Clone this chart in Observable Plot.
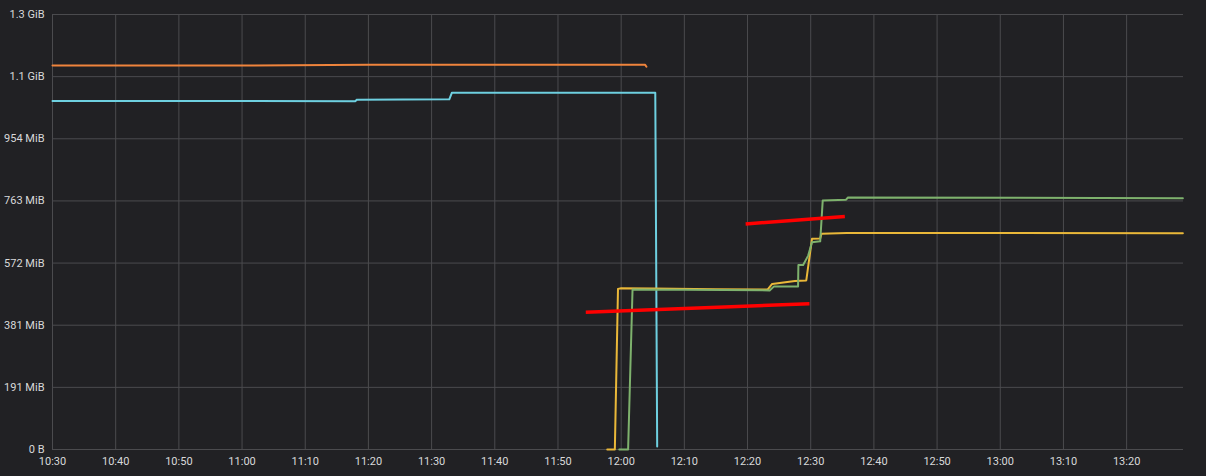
<!DOCTYPE html>
<html>
<head>
<meta charset="utf-8">
<script src="https://cdn.jsdelivr.net/npm/d3@7"></script>
<script src="https://cdn.jsdelivr.net/npm/@observablehq/plot@0.6"></script>
<style>
  html, body { margin: 0; padding: 0; background: #212124; }
  #chart { width: 1206px; height: 476px; }
</style>
</head>
<body>
<div id="chart"></div>
<script>
// ---- data (values in MB = 1e6 bytes; times hh:mm:ss on one day) ----
const seriesNames = ["series A", "series B", "series C", "series D"];
const seriesColors = ["#EF843C", "#6ED0E0", "#EAB839", "#7EB26D"];

const seriesATimes  = ["10:30:00", "11:00:00", "11:20:00", "12:03:48", "12:04:00"];
const seriesAValues = [1236, 1236, 1238, 1238, 1232];

const seriesBTimes  = ["10:30:00", "11:17:54", "11:18:12", "11:32:48", "11:33:12", "12:05:24", "12:05:42"];
const seriesBValues = [1122, 1121, 1126, 1127, 1148, 1148, 10];

const seriesCTimes  = ["11:57:48", "11:59:00", "11:59:30", "12:00:00", "12:05:00", "12:15:00", "12:23:12", "12:23:54", "12:27:30", "12:29:18", "12:30:12", "12:31:30", "12:31:42", "12:35:42", "13:28:54"];
const seriesCValues = [0, 0, 517, 519, 518, 516, 515, 533, 542, 544, 678, 679, 694, 697, 696];

const seriesDTimes  = ["11:59:42", "12:01:06", "12:01:48", "12:10:00", "12:23:30", "12:24:12", "12:28:00", "12:28:03", "12:28:48", "12:29:36", "12:30:12", "12:31:30", "12:31:54", "12:35:36", "12:35:54", "13:28:54"];
const seriesDValues = [0, 0, 515, 514, 512, 525, 525, 594, 594, 624, 667, 670, 801, 804, 811, 809];

// hand-drawn red annotation strokes
const redStartTimes  = ["11:54:24", "12:19:42"];
const redStartValues = [442, 726];
const redEndTimes    = ["12:29:48", "12:35:24"];
const redEndValues   = [469, 750];

const yTicks = [0, 200, 400, 600, 800, 1000, 1200, 1400];
const yTickLabels = ["0 B", "191 MiB", "381 MiB", "572 MiB", "763 MiB", "954 MiB", "1.1 GiB", "1.3 GiB"];
const xTickLabels = ["10:30", "10:40", "10:50", "11:00", "11:10", "11:20", "11:30", "11:40", "11:50",
                     "12:00", "12:10", "12:20", "12:30", "12:40", "12:50", "13:00", "13:10", "13:20"];
const xStart = "10:30:00";
const xEnd = "13:29:00";

// ---- build ----
const T = s => new Date("2019-01-01T" + (s.length === 5 ? s + ":00" : s) + "Z");

const rows = [];
function addSeries(name, times, values) {
  times.forEach((t, i) => rows.push({series: name, time: T(t), value: values[i]}));
}
addSeries("series A", seriesATimes, seriesAValues);
addSeries("series B", seriesBTimes, seriesBValues);
addSeries("series C", seriesCTimes, seriesCValues);
addSeries("series D", seriesDTimes, seriesDValues);

const red = redStartTimes.map((t, i) => ({
  x1: T(t), y1: redStartValues[i], x2: T(redEndTimes[i]), y2: redEndValues[i]
}));

const xTicks = xTickLabels.map(T);
const fmt = d3.utcFormat("%H:%M");

const chart = Plot.plot({
  width: 1206,
  height: 476,
  marginLeft: 52,
  marginRight: 23,
  marginTop: 14,
  marginBottom: 27,
  style: {
    background: "#212124",
    color: "#d8d9da",
    fontFamily: "Roboto, 'Helvetica Neue', Arial, sans-serif",
    fontSize: "11px"
  },
  x: {type: "utc", domain: [T(xStart), T(xEnd)]},
  y: {domain: [0, 1400]},
  color: {type: "ordinal", domain: seriesNames, range: seriesColors},
  marks: [
    Plot.gridX(xTicks, {stroke: "#4b4b4e", strokeOpacity: 1, strokeWidth: 1}),
    Plot.gridY(yTicks, {stroke: "#4b4b4e", strokeOpacity: 1, strokeWidth: 1}),
    Plot.axisX(xTicks, {tickSize: 0, tickPadding: 8, tickFormat: fmt, label: null, fill: "#d8d9da"}),
    Plot.axisY(yTicks, {tickSize: 0, tickPadding: 8, tickFormat: d => yTickLabels[yTicks.indexOf(d)], label: null, fill: "#d8d9da"}),
    Plot.line(rows, {x: "time", y: "value", z: "series", stroke: "series", strokeWidth: 2, curve: "linear"}),
    Plot.link(red, {x1: "x1", y1: "y1", x2: "x2", y2: "y2", stroke: "#ff0000", strokeWidth: 3.5})
  ]
});

document.getElementById("chart").appendChild(chart);
</script>
</body>
</html>
